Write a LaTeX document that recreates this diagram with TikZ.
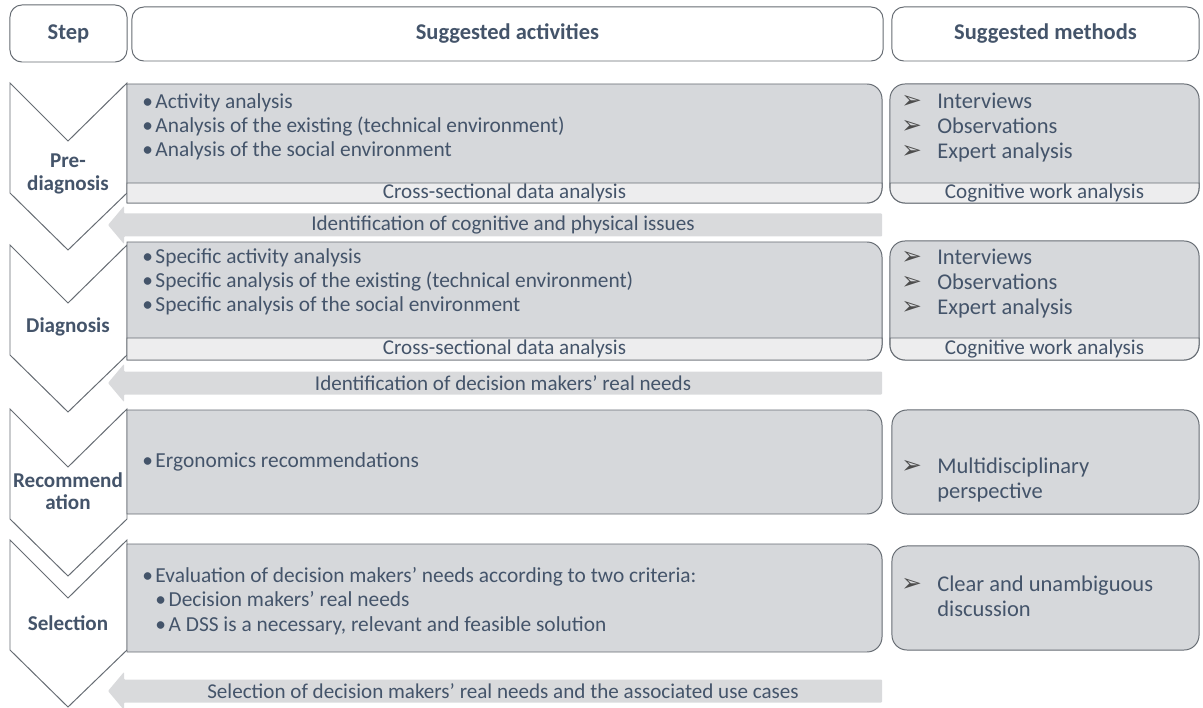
\documentclass[tikz,border=0pt]{standalone}
\usepackage{fontspec}
\setmainfont{Carlito}
\newfontfamily\symfont{DejaVu Sans}
\usetikzlibrary{
	positioning,
	calc,
}
\definecolor{txtblue}{HTML}{44546A}
\definecolor{boxgray}{HTML}{D6D8DB}
\definecolor{stripgray}{HTML}{EDEDEE}
\definecolor{arrowgray}{HTML}{D9DADC}
\definecolor{edgegray}{HTML}{666C73}
% bullets used in the two text columns
\newcommand{\actbullet}{\makebox[3.3mm][l]{•}}
\newcommand{\methbullet}{\makebox[9mm][l]{\symfont\fontsize{17.5}{15}\selectfont\color{black!70}➢}}
\tikzset{headbox/.style={
		% The shape:
		rectangle,rounded corners=3mm,
		% The border:
		line width=0.7pt,draw=edgegray,
		% The filling:
		fill=white,
		% The text:
		inner sep=0pt,text=txtblue,font=\fontsize{16}{18}\selectfont\bfseries,
}}
\tikzset{chevron/.style={
		% The border:
		line width=0.7pt,draw=edgegray,
		% The filling:
		fill=white,
}}
\tikzset{actbox/.style={
		% The border:
		line width=0.7pt,draw=edgegray,
		% The filling:
		fill=boxgray,
}}
\tikzset{methbox/.style={
		% The shape:
		rectangle,rounded corners=3.75mm,
		% The border:
		line width=0.7pt,draw=edgegray,
		% The filling:
		fill=boxgray,inner sep=0pt,
}}
\tikzset{stripbox/.style={
		% The border:
		line width=0.7pt,draw=edgegray,
		% The filling:
		fill=stripgray,
}}
\tikzset{flowarrow/.style={
		% The filling:
		fill=arrowgray,rounded corners=0.6pt,
}}
\tikzset{steplabel/.style={
		align=center,text=txtblue,inner sep=0pt,
		font=\fontsize{15}{15.8}\selectfont\bfseries,
}}
\tikzset{acttext/.style={
		anchor=west,align=left,text=txtblue,inner sep=0pt,
		font=\fontsize{15.2}{17.2}\selectfont,
}}
\tikzset{methtext/.style={
		anchor=west,align=left,text=txtblue,inner sep=0pt,
		font=\fontsize{16}{17.8}\selectfont,
}}
\tikzset{plaintext/.style={
		text=txtblue,inner sep=0pt,
		font=\fontsize{15}{17}\selectfont,
}}

\begin{document}
\begin{tikzpicture}[x=0.025cm,y=0.025cm]
	\useasboundingbox (0,0) rectangle (1203,-708);
	% column heads
	\node[headbox,minimum width=2.925cm,minimum height=1.425cm] (step) at (68.5,-33.5) {Step};
	\node[headbox,minimum width=18.775cm,minimum height=1.35cm] (act) at (507.5,-34) {Suggested activities};
	\node[headbox,minimum width=7.675cm,minimum height=1.35cm] (meth) at (1045.5,-34) {Suggested methods};
	% the four steps
	\foreach \t in {83,245,409,540}
		\draw[chevron] (10,-\t) -- (68,{-\t-58}) -- (127,-\t) -- (127,{-\t-110}) -- (68,{-\t-167}) -- (10,{-\t-110}) -- cycle;
	\node[steplabel] (pre) at (68,-174) {Pre-\\diagnosis};
	\node[steplabel] (diag) at (68,-327) {Diagnosis};
	\node[steplabel] (rec) at (68,-491) {Recommend\\ation};
	\node[steplabel] (sel) at (68,-623) {Selection};
	% activity boxes, square on the left
	\foreach \t/\b in {84/203,242/360,410/514,544/652}
		\draw[actbox] (127,-\t) -- (867,-\t) arc[start angle=90,end angle=0,radius=15] -- (882,{-\b+15}) arc[start angle=0,end angle=-90,radius=15] -- (127,-\b) -- cycle;
	\foreach \t/\b in {183/203,338/360}
		\draw[stripbox] (127,-\t) -- (882,-\t) -- (882,{-\b+15}) arc[start angle=0,end angle=-90,radius=15] -- (127,-\b) -- cycle;
	% method boxes
	\node[methbox,minimum width=7.725cm,minimum height=2.975cm] (mbox1) at (1044.5,-143.5) {};
	\node[methbox,minimum width=7.725cm,minimum height=2.975cm] (mbox2) at (1044.5,-300.5) {};
	\node[methbox,minimum width=7.675cm,minimum height=2.6cm] (mbox3) at (1045.5,-462) {};
	\node[methbox,minimum width=7.675cm,minimum height=2.6cm] (mbox4) at (1045.5,-598) {};
	\foreach \t/\b in {183/203,338/360}
		\draw[stripbox] (890,-\t) -- (1199,-\t) -- (1199,{-\b+15}) arc[start angle=0,end angle=-90,radius=15] -- (905,-\b) arc[start angle=270,end angle=180,radius=15] -- cycle;
	% activities
	\node[acttext] (act1) at (142,-127) {\actbullet Activity analysis\\\actbullet Analysis of the existing (technical environment)\\\actbullet Analysis of the social environment};
	\node[acttext] (act2) at (142,-282) {\actbullet Specific activity analysis\\\actbullet Specific analysis of the existing (technical environment)\\\actbullet Specific analysis of the social environment};
	\node[acttext] (act3) at (142,-462) {\actbullet Ergonomics recommendations};
	\node[acttext] (act4) at (142,-601) {\actbullet Evaluation of decision makers’ needs according to two criteria:\\\hspace*{3.3mm}\actbullet Decision makers’ real needs\\\hspace*{3.3mm}\actbullet A DSS is a necessary, relevant and feasible solution};
	\node[plaintext] (cross1) at (504.5,-193) {Cross-sectional data analysis};
	\node[plaintext] (cross2) at (504.5,-349) {Cross-sectional data analysis};
	% methods
	\node[methtext] (meth1) at (901,-128) {\methbullet Interviews\\\methbullet Observations\\\methbullet Expert analysis};
	\node[methtext] (meth2) at (901,-284) {\methbullet Interviews\\\methbullet Observations\\\methbullet Expert analysis};
	\node[methtext] (meth3) at (901,-480) {\methbullet Multidisciplinary\\\hspace*{9mm}perspective};
	\node[methtext] (meth4) at (901,-596) {\methbullet Clear and unambiguous\\\hspace*{9mm}discussion};
	\node[plaintext] (cwa1) at (1044.5,-193) {Cognitive work analysis};
	\node[plaintext] (cwa2) at (1044.5,-349) {Cognitive work analysis};
	% results fed back
	\foreach \y in {225,383,691}
		\fill[flowarrow] (108,-\y) -- (124,{-\y+19}) -- (124,{-\y+11.5}) -- (882,{-\y+11.5}) -- (882,{-\y-11.5}) -- (124,{-\y-11.5}) -- (124,{-\y-19}) -- cycle;
	\node[plaintext] (issues) at (503,-225) {Identification of cognitive and physical issues};
	\node[plaintext] (needs) at (503,-383) {Identification of decision makers’ real needs};
	\node[plaintext] (cases) at (503,-691) {Selection of decision makers’ real needs and the associated use cases};
\end{tikzpicture}
\end{document}
